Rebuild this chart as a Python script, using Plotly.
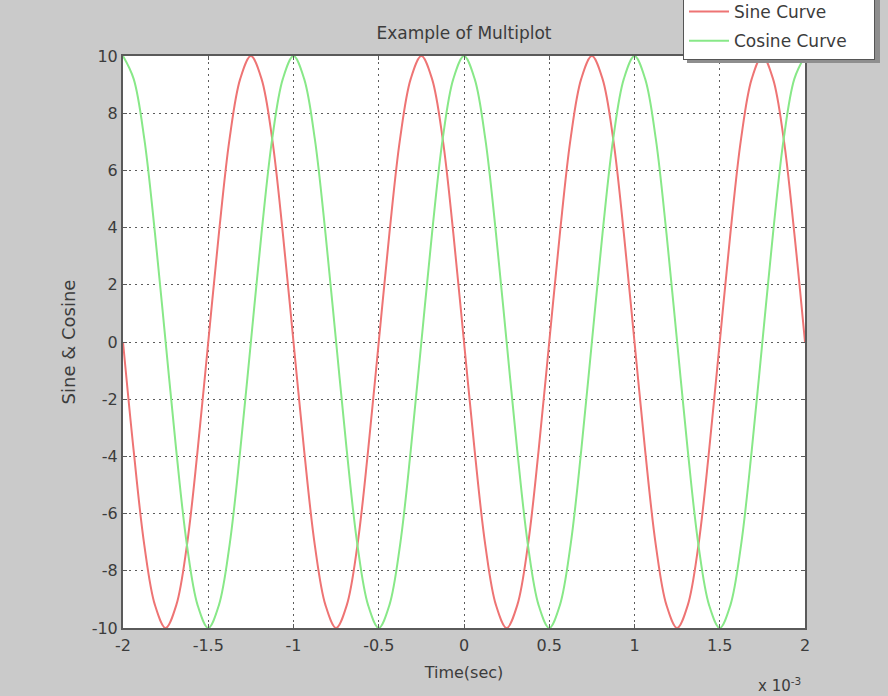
import plotly.graph_objects as go

# Time axis in milliseconds (axis is labelled "x 10^-3" seconds)
time_ms = [
    -2.0, -1.9375, -1.875, -1.8125, -1.75, -1.6875, -1.625, -1.5625,
    -1.5, -1.4375, -1.375, -1.3125, -1.25, -1.1875, -1.125, -1.0625,
    -1.0, -0.9375, -0.875, -0.8125, -0.75, -0.6875, -0.625, -0.5625,
    -0.5, -0.4375, -0.375, -0.3125, -0.25, -0.1875, -0.125, -0.0625,
    0.0, 0.0625, 0.125, 0.1875, 0.25, 0.3125, 0.375, 0.4375,
    0.5, 0.5625, 0.625, 0.6875, 0.75, 0.8125, 0.875, 0.9375,
    1.0, 1.0625, 1.125, 1.1875, 1.25, 1.3125, 1.375, 1.4375,
    1.5, 1.5625, 1.625, 1.6875, 1.75, 1.8125, 1.875, 1.9375, 2.0,
]

sine_values = [
    0, -3.8, -7.1, -9.2, -10, -9.2, -7.1, -3.8,
    0, 3.8, 7.1, 9.2, 10, 9.2, 7.1, 3.8,
    0, -3.8, -7.1, -9.2, -10, -9.2, -7.1, -3.8,
    0, 3.8, 7.1, 9.2, 10, 9.2, 7.1, 3.8,
    0, -3.8, -7.1, -9.2, -10, -9.2, -7.1, -3.8,
    0, 3.8, 7.1, 9.2, 10, 9.2, 7.1, 3.8,
    0, -3.8, -7.1, -9.2, -10, -9.2, -7.1, -3.8,
    0, 3.8, 7.1, 9.2, 10, 9.2, 7.1, 3.8, 0,
]

cosine_values = [
    10, 9.2, 7.1, 3.8, 0, -3.8, -7.1, -9.2,
    -10, -9.2, -7.1, -3.8, 0, 3.8, 7.1, 9.2,
    10, 9.2, 7.1, 3.8, 0, -3.8, -7.1, -9.2,
    -10, -9.2, -7.1, -3.8, 0, 3.8, 7.1, 9.2,
    10, 9.2, 7.1, 3.8, 0, -3.8, -7.1, -9.2,
    -10, -9.2, -7.1, -3.8, 0, 3.8, 7.1, 9.2,
    10, 9.2, 7.1, 3.8, 0, -3.8, -7.1, -9.2,
    -10, -9.2, -7.1, -3.8, 0, 3.8, 7.1, 9.2, 10,
]

series_names = ["Sine Curve", "Cosine Curve"]

x_ticks = [-2, -1.5, -1, -0.5, 0, 0.5, 1, 1.5, 2]
x_tick_labels = ["-2", "-1.5", "-1", "-0.5", "0", "0.5", "1", "1.5", "2"]
y_ticks = [-10, -8, -6, -4, -2, 0, 2, 4, 6, 8, 10]
y_tick_labels = ["-10", "-8", "-6", "-4", "-2", "0", "2", "4", "6", "8", "10"]

FONT = "DejaVu Sans, Verdana, sans-serif"
TEXT = "#3c3c3c"

# Plot-area pixel box inside the 888x696 figure
L, R, T, B = 123, 805, 56, 628
W, H = R - L, B - T

# trailing non-breaking spaces give the legend box its wide right margin
PAD = "\u00a0" * 4

fig = go.Figure()
fig.add_trace(go.Scatter(
    x=time_ms, y=sine_values, mode="lines", name=series_names[0] + PAD,
    line=dict(color="#ee7474", width=2, shape="spline"), legendgroup="a",
))
fig.add_trace(go.Scatter(
    x=time_ms, y=cosine_values, mode="lines", name=series_names[1] + PAD,
    line=dict(color="#88e888", width=2, shape="spline"), legendgroup="b",
))

axis_common = dict(
    showline=True, linecolor="#5a5a5a", linewidth=2, mirror="ticks",
    showgrid=True, gridcolor="#5c5c5c", gridwidth=1, griddash="2px,4px",
    zeroline=False, ticks="inside", ticklen=4, tickcolor="#5a5a5a",
    tickfont=dict(family=FONT, size=16, color=TEXT),
)

fig.update_xaxes(
    range=[-2, 2], tickvals=x_ticks, ticktext=x_tick_labels,
    ticklabelstandoff=2,
    title=dict(text="Time(sec)", font=dict(family=FONT, size=16, color=TEXT), standoff=13),
    **axis_common,
)
fig.update_yaxes(
    range=[-10, 10], tickvals=y_ticks, ticktext=y_tick_labels,
    title=dict(text="Sine & Cosine", font=dict(family=FONT, size=18, color=TEXT), standoff=11),
    **axis_common,
)

fig.add_annotation(
    text="x 10<sup>-3</sup>", xref="paper", yref="paper",
    x=(779 - L) / W, y=-(685 - B) / H,
    showarrow=False, xanchor="center", yanchor="middle",
    font=dict(family=FONT, size=15, color=TEXT),
)

# thin drop shadow along the right and bottom of the legend box
fig.add_shape(
    type="rect", xref="paper", yref="paper", layer="above",
    x0=(687 - L) / W, x1=(880 - L) / W,
    y0=(B - 63) / H, y1=(B + 10) / H,
    fillcolor="#8e8e8e", line=dict(width=0),
)

fig.update_layout(
    width=888, height=696,
    margin=dict(l=L, r=888 - R, t=T, b=696 - B, autoexpand=False),
    paper_bgcolor="#cacaca", plot_bgcolor="white",
    title=dict(
        text="Example of Multiplot", x=0.5, xref="paper",
        y=1 - 33 / 696, yanchor="middle",
        font=dict(family=FONT, size=17, color=TEXT),
    ),
    legend=dict(
        x=(683 - L) / W, xanchor="left",
        y=(B - 60) / H, yanchor="bottom",
        bgcolor="white", bordercolor="#555555", borderwidth=1,
        font=dict(family=FONT, size=17, color=TEXT),
        tracegroupgap=4, itemwidth=40,
    ),
    showlegend=True,
)

fig.write_html("out.html")
